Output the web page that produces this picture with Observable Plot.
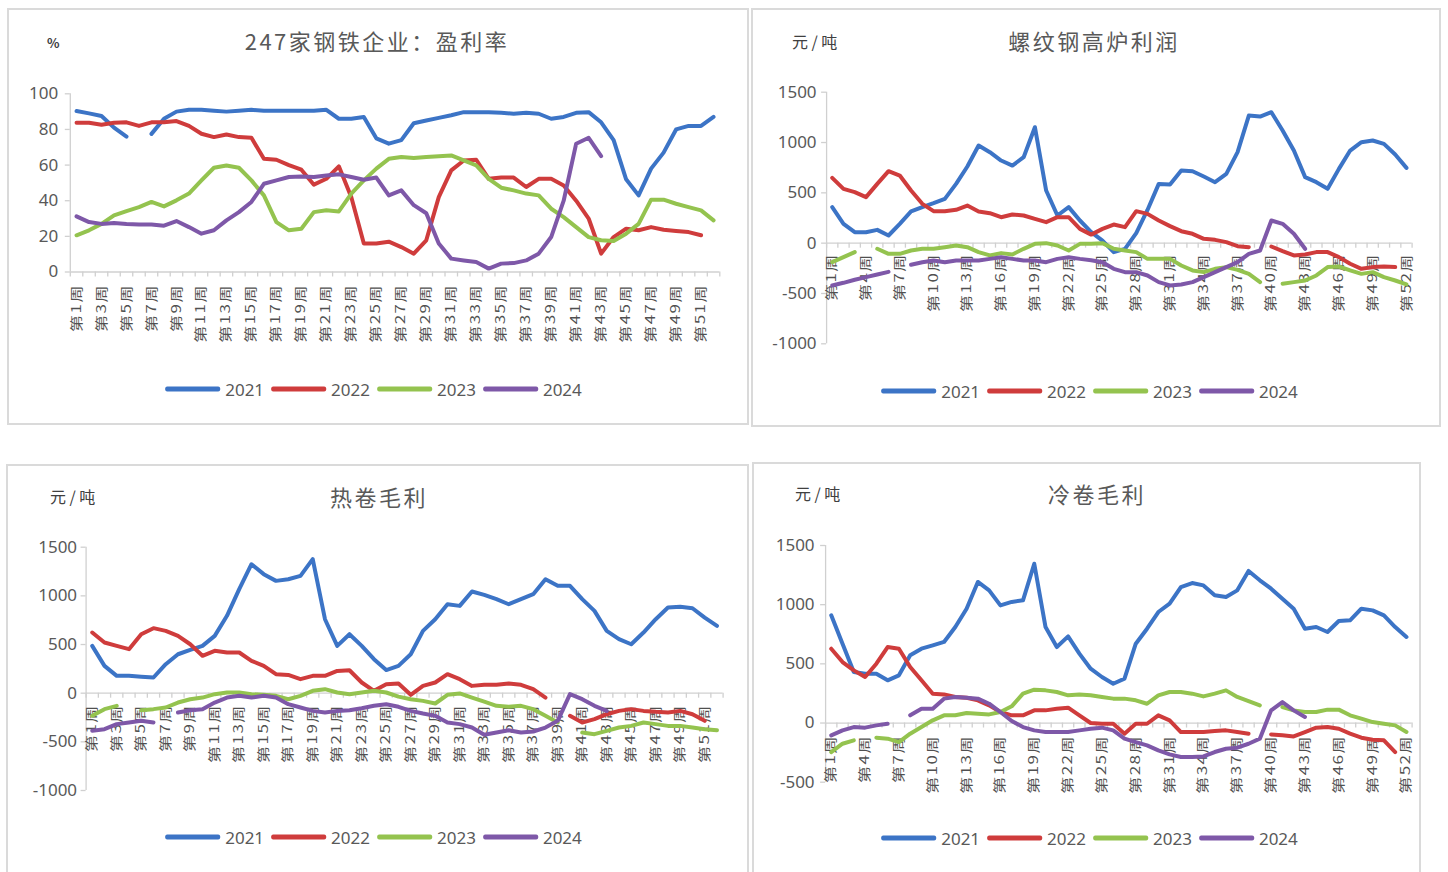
<!DOCTYPE html>
<html>
<head>
<meta charset="utf-8">
<script src="https://cdn.jsdelivr.net/npm/d3@7"></script>
<script src="https://cdn.jsdelivr.net/npm/@observablehq/plot@0.6"></script>
<style>
  html, body { margin: 0; padding: 0; background: #fff; }
  body { width: 1448px; height: 872px; position: relative; overflow: hidden;
         font-family: "Noto Sans CJK SC", "Noto Sans", sans-serif; color: #595959; }
  .box { position: absolute; border: 2px solid #dadada; box-sizing: border-box; }
  .title { position: absolute; transform: translate(-50%, -50%); font-size: 22px; letter-spacing: 2.5px; white-space: nowrap; color: #595959; }
  .unit { position: absolute; transform: translateY(-50%); font-size: 16px; letter-spacing: 3.5px; white-space: nowrap; color: #404040; }
  .legend { position: absolute; transform: translate(-50%, -50%); display: flex; align-items: center; white-space: nowrap;
            font-family: "Noto Sans", sans-serif; font-size: 17px; color: #595959; }
  .legend .sw { width: 55px; height: 4.5px; border-radius: 2px; margin-right: 5px; }
  .legend .lb { margin-right: 7px; }
  .chart { position: absolute; }
</style>
</head>
<body>
<div class="box" style="left:7px;top:8px;width:742px;height:417px"></div>
<div class="box" style="left:751px;top:8px;width:690px;height:419px"></div>
<div class="box" style="left:6px;top:464px;width:743px;height:420px"></div>
<div class="box" style="left:752px;top:462px;width:669px;height:420px"></div>

<div class="unit" style="left:47px;top:42px;font-size:13px;font-weight:bold;">%</div>
<div class="title" style="left:377px;top:40px;">247家钢铁企业：盈利率</div>
<div class="unit" style="left:792px;top:41px;">元/吨</div>
<div class="title" style="left:1094px;top:40px;">螺纹钢高炉利润</div>
<div class="unit" style="left:50px;top:496px;">元/吨</div>
<div class="title" style="left:379px;top:496px;">热卷毛利</div>
<div class="unit" style="left:795px;top:493px;">元/吨</div>
<div class="title" style="left:1097px;top:493px;">冷卷毛利</div>

<div id="c1" class="chart"></div>
<div id="c2" class="chart"></div>
<div id="c3" class="chart"></div>
<div id="c4" class="chart"></div>

<div id="l1" class="legend" style="left:377px;top:389px;"></div>
<div id="l2" class="legend" style="left:1093px;top:391px;"></div>
<div id="l3" class="legend" style="left:377px;top:837px;"></div>
<div id="l4" class="legend" style="left:1093px;top:838px;"></div>

<script>
const N = null;
const weeks = d3.range(1, 53);
const years = ["2021", "2022", "2023", "2024"];
const colors = ["#3c74c6", "#cf3c3c", "#94c34f", "#7e58a8"];

// Panel 1: 247家钢铁企业盈利率 (%)
const rate2021 = [90.3,89,87.5,81,76,N,77.5,86,90,91, 91,90.5,90,90.5,91,90.5,90.5,90.5,90.5,90.5, 91,86,86,87,75,72,74,83.5,85,86.5, 88,89.7,89.7,89.7,89.3,88.8,89.3,88.8,86,87, 89.3,89.7,84,74,52,43,58,67,80,82, 82,87];
const rate2022 = [83.7,83.7,82.6,83.7,84,82,84,84,84.7,82, 77.6,75.7,77.2,75.7,75.3,63.5,63,60,57.4,49, 52.3,59.3,42,16,16,17,14,10.3,17.8,42, 57,62.6,63,52.3,53,53,47.7,52.3,52.3,48.6, 40,30,10.3,19.6,24.3,23.4,25.2,23.7,23,22.4, 20.6,N];
const rate2023 = [20.6,23.4,27,31.8,34.2,36.4,39.3,36.8,40.2,44, 51.4,58.5,59.8,58.5,51.4,43,28,23.4,24.3,33.6, 34.6,34,44,51.4,58,63.5,64.5,64,64.5,65, 65.4,62.6,59.8,52.3,47.3,45.8,44,43,35.5,30.8, 25.2,19.6,17.8,17.4,21.5,27,40.6,40.6,38.3,36.4, 34.6,29];
const rate2024 = [31.2,28,27,27.5,27,26.7,26.7,26,28.6,25.2, 21.5,23.4,29,33.6,39.3,49.5,51.4,53.3,53.6,53.3, 54.2,54.8,53.3,51.8,53,43,45.8,37.5,33,16, 7.5,6.5,5.6,1.9,4.7,5,6.5,10.3,19.6,40, 72,75.3,65,N,N,N,N,N,N,N, N,N];

// Panel 2: 螺纹钢高炉利润 (元/吨)
const rebar2021 = [358,192,109,109,132,76,192,315,358,397, 440,589,762,970,904,821,771,854,1152,523, 275,358,225,110,26,-89,-56,100,330,589, 583,722,715,662,606,689,904,1268,1258,1301, 1119,920,656,606,540,738,920,1003,1020,987, 881,748];
const rebar2022 = [649,540,507,457,589,715,672,523,391,318, 318,331,374,315,298,258,285,275,242,209, 258,258,142,85,142,185,159,318,291,225, 169,119,93,43,33,10,-30,-40,N,-33, -79,-122,-112,-89,-89,-139,-205,-255,-238,-232, -238,N];
const rebar2023 = [-189,-139,-89,N,-56,-106,-106,-73,-56,-56, -40,-23,-40,-89,-122,-99,-112,-56,-7,0, -23,-73,-7,-7,0,-56,-73,-89,-156,-156, -156,-222,-271,-288,-255,-238,-265,-305,-387,N, -404,-387,-371,-321,-238,-232,-271,-305,-288,-338, -371,-410];
const rebar2024 = [-420,-394,-364,-338,-311,-285,N,-215,-189,-172, -189,-172,-172,-172,-156,-139,-156,-172,-172,-189, -156,-139,-156,-170,-189,-255,-288,-288,-321,-387, -420,-410,-387,-338,-288,-238,-189,-106,-73,225, 192,93,-56,N,N,N,N,N,N,N, N,N];

// Panel 3: 热卷毛利 (元/吨)
const hrc2021 = [486,281,178,178,170,161,298,400,445,486, 589,795,1069,1325,1223,1154,1171,1206,1377,760, 486,606,486,349,238,281,400,640,760,914, 897,1045,1010,966,914,966,1017,1171,1103,1103, 966,846,640,555,503,623,760,880,887,873, 777,692];
const hrc2022 = [623,521,486,452,606,668,640,589,503,384, 435,418,418,332,281,195,188,144,178,178, 229,236,110,24,92,99,-17,75,110,195, 144,75,86,86,99,86,41,-45,N,-233, -301,-267,-216,-182,-164,-182,-192,-199,-182,-216, -284,N];
const hrc2023 = [-233,-164,-130,N,-175,-164,-147,-96,-62,-45, -10,7,7,-10,-17,-27,-62,-27,24,41, 7,-10,7,24,7,-35,-62,-79,-106,-17, -3,-45,-86,-130,-140,-130,-164,-233,-301,N, -404,-421,-387,-353,-336,-301,-318,-336,-336,-353, -370,-380];
const hrc2024 = [-387,-370,-318,-301,-284,-301,N,-199,-175,-164, -96,-45,-27,-45,-27,-45,-113,-147,-182,-199, -182,-175,-154,-130,-113,-140,-182,-209,-233,-301, -318,-353,-428,-404,-380,-404,-394,-353,-284,-10, -62,-130,-182,N,N,N,N,N,N,N, N,N];

// Panel 4: 冷卷毛利 (元/吨)
const crc2021 = [910,670,431,417,417,361,403,572,628,656, 685,811,966,1192,1121,994,1023,1037,1346,811, 642,732,586,459,389,332,375,670,797,938, 1008,1149,1183,1163,1079,1065,1121,1285,1206,1135, 1051,966,797,811,769,862,868,966,952,910, 811,727];
const crc2022 = [628,515,445,389,501,642,628,473,361,248, 242,220,214,192,149,93,65,65,107,107, 121,130,65,0,-6,-6,-90,-6,-6,65, 23,-76,-76,-76,-68,-62,-76,-90,N,-96, -104,-113,-76,-39,-34,-48,-90,-124,-141,-146, -245,N];
const crc2023 = [-245,-175,-146,N,-124,-132,-161,-90,-34,23, 65,65,85,79,73,93,141,248,282,276, 262,234,242,234,220,206,206,192,163,234, 262,262,248,225,248,276,220,186,149,N, 135,107,93,93,113,113,65,37,8,-6, -20,-76];
const crc2024 = [-104,-62,-34,-39,-20,-6,N,65,121,121, 206,220,214,206,163,93,17,-34,-62,-76, -76,-76,-62,-48,-39,-62,-132,-161,-189,-231, -265,-287,-287,-282,-245,-217,-208,-175,-132,107, 177,107,51,N,N,N,N,N,N,N, N,N];

// Axis tick values and label weeks
const ticksRate = [0, 20, 40, 60, 80, 100];
const ticksRebar = [-1000, -500, 0, 500, 1000, 1500];
const ticksHrc = [-1000, -500, 0, 500, 1000, 1500];
const ticksCrc = [-500, 0, 500, 1000, 1500];
const oddWeeks = d3.range(1, 53, 2);
const every3Weeks = d3.range(1, 53, 3);

const axisColor = "#d0d0d0";
const textColor = "#595959";
const numFont = "'Noto Sans', 'Open Sans', sans-serif";
const cjkFont = "'Noto Sans CJK SC', 'Noto Sans', sans-serif";

function makePanel(cfg) {
  const {el, L, T, W, H, fx0, fx1, fyTop, fyBot, yDomain, yTicks, labelWeeks, series, labelDy, yLabelDx} = cfg;
  const rows = [];
  series.forEach((vals, i) => vals.forEach((v, j) => rows.push({week: weeks[j], value: v == null ? NaN : v, year: years[i]})));
  const pxPerWeek = (fx1 - fx0) / 52;
  const pxPerUnit = (fyBot - fyTop) / (yDomain[1] - yDomain[0]);
  const tickW = 5 / pxPerWeek;
  const tickH = 5 / pxPerUnit;
  const y0 = yDomain[0] < 0 ? 0 : yDomain[0];
  const svg = Plot.plot({
    width: W, height: H,
    marginLeft: fx0 - L, marginRight: L + W - fx1,
    marginTop: fyTop - T, marginBottom: T + H - fyBot,
    x: {domain: [0.5, 52.5], axis: null},
    y: {domain: yDomain, axis: null},
    color: {domain: years, range: colors},
    style: {background: "transparent", overflow: "visible", fontFamily: numFont, color: textColor},
    marks: [
      Plot.ruleX([0.5], {y1: yDomain[0], y2: yDomain[1], stroke: axisColor, strokeWidth: 1.3}),
      Plot.ruleY(yTicks, {x1: 0.5 - tickW, x2: 0.5, stroke: axisColor, strokeWidth: 1.3}),
      Plot.text(yTicks, {x: 0.5, y: d => d, text: d => String(d), textAnchor: "end", dx: yLabelDx, fontSize: 17, fill: textColor, fontFamily: numFont}),
      Plot.ruleY([y0], {x1: 0.5, x2: 52.5, stroke: axisColor, strokeWidth: 1.3}),
      Plot.ruleX(d3.range(0.5, 53, 1), {x: d => d, y1: y0, y2: y0 - tickH, stroke: axisColor, strokeWidth: 1.3}),
      Plot.text(labelWeeks, {x: d => d, y: y0, text: d => `第${d}周`, rotate: -90, textAnchor: "end", dy: labelDy, fontSize: 17, fill: "#505050", fontFamily: cjkFont}),
      Plot.line(rows, {x: "week", y: "value", z: "year", stroke: "year", strokeWidth: 4, strokeLinejoin: "round", strokeLinecap: "round"})
    ]
  });
  d3.select(svg).selectAll("text").filter(function() { return this.textContent.startsWith("第"); })
    .each(function() {
      const t = this.getAttribute("transform") || "";
      this.setAttribute("transform", t + " scale(1,0.74)");
      this.setAttribute("letter-spacing", "1.5");
    });
  const host = document.getElementById(el);
  host.style.left = L + "px";
  host.style.top = T + "px";
  host.appendChild(svg);
}

makePanel({el: "c1", L: 8, T: 70, W: 738, H: 300, fx0: 69.8, fx1: 719.3, fyTop: 93.3, fyBot: 271.5,
  yDomain: [0, 100], yTicks: ticksRate, labelWeeks: oddWeeks, series: [rate2021, rate2022, rate2023, rate2024], labelDy: 12, yLabelDx: -12});
makePanel({el: "c2", L: 752, T: 70, W: 686, H: 300, fx0: 826.1, fx1: 1411.6, fyTop: 91.7, fyBot: 343.3,
  yDomain: [-1000, 1500], yTicks: ticksRebar, labelWeeks: every3Weeks, series: [rebar2021, rebar2022, rebar2023, rebar2024], labelDy: 10, yLabelDx: -10});
makePanel({el: "c3", L: 8, T: 525, W: 738, H: 300, fx0: 85.6, fx1: 722.6, fyTop: 546.7, fyBot: 790,
  yDomain: [-1000, 1500], yTicks: ticksHrc, labelWeeks: oddWeeks, series: [hrc2021, hrc2022, hrc2023, hrc2024], labelDy: 11, yLabelDx: -9});
makePanel({el: "c4", L: 752, T: 525, W: 666, H: 300, fx0: 825.1, fx1: 1411.6, fyTop: 545, fyBot: 781.7,
  yDomain: [-500, 1500], yTicks: ticksCrc, labelWeeks: every3Weeks, series: [crc2021, crc2022, crc2023, crc2024], labelDy: 12, yLabelDx: -11});

function makeLegend(id) {
  const host = document.getElementById(id);
  years.forEach((y, i) => {
    const sw = document.createElement("span");
    sw.className = "sw";
    sw.style.background = colors[i];
    const lb = document.createElement("span");
    lb.className = "lb";
    lb.textContent = y;
    host.appendChild(sw);
    host.appendChild(lb);
  });
}
["l1", "l2", "l3", "l4"].forEach(makeLegend);
</script>
</body>
</html>
